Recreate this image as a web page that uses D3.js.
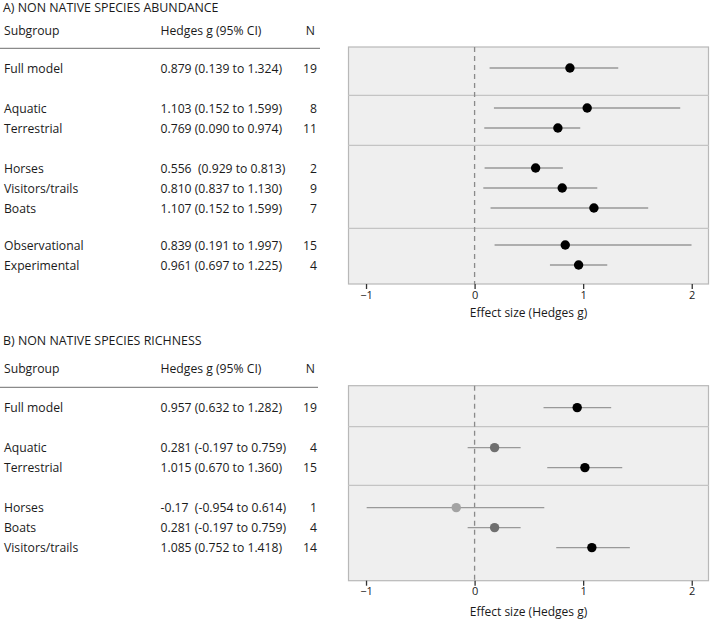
<!DOCTYPE html>
<html><head><meta charset="utf-8">
<script src="https://cdn.jsdelivr.net/npm/d3@7"></script>
<style>
body{margin:0;background:#fff}
text{font-family:"Open Sans",sans-serif;fill:#1a1a1a;white-space:pre}
</style>
</head><body><svg id="c" width="711" height="620"></svg>
<script>
// ---------- data ----------
const headers = ["Subgroup", "Hedges g (95% CI)", "N"];
const xTicks = [-1, 0, 1, 2];
const xTitle = "Effect size (Hedges g)";

const aTitle = "A) NON NATIVE SPECIES ABUNDANCE";
const aSubgroups = ["Full model", "Aquatic", "Terrestrial", "Horses", "Visitors/trails", "Boats", "Observational", "Experimental"];
const aHedgesText = ["0.879 (0.139 to 1.324)", "1.103 (0.152 to 1.599)", "0.769 (0.090 to 0.974)", "0.556  (0.929 to 0.813)", "0.810 (0.837 to 1.130)", "1.107 (0.152 to 1.599)", "0.839 (0.191 to 1.997)", "0.961 (0.697 to 1.225)"];
const aN = [19, 8, 11, 2, 9, 7, 15, 4];
const aGroupSizes = [1, 2, 3, 2];
const aEst = [0.878, 1.037, 0.767, 0.562, 0.807, 1.099, 0.835, 0.958];
const aLo  = [0.138, 0.178, 0.089, 0.092, 0.080, 0.147, 0.184, 0.694];
const aHi  = [1.323, 1.894, 0.973, 0.813, 1.130, 1.599, 1.998, 1.222];

const bTitle = "B) NON NATIVE SPECIES RICHNESS";
const bSubgroups = ["Full model", "Aquatic", "Terrestrial", "Horses", "Boats", "Visitors/trails"];
const bHedgesText = ["0.957 (0.632 to 1.282)", "0.281 (-0.197 to 0.759)", "1.015 (0.670 to 1.360)", "-0.17  (-0.954 to 0.614)", "0.281 (-0.197 to 0.759)", "1.085 (0.752 to 1.418)"];
const bN = [19, 4, 15, 1, 4, 14];
const bGroupSizes = [1, 2, 3];
const bEst = [0.945, 0.184, 1.016, -0.169, 0.184, 1.080];
const bLo  = [0.635, -0.064, 0.669, -0.994, -0.064, 0.752];
const bHi  = [1.258, 0.424, 1.360, 0.642, 0.424, 1.430];

// ---------- drawing ----------
const svg = d3.select("#c");
svg.append("rect").attr("width", 711).attr("height", 620).attr("fill", "#fff");
const FS = 12.2;

function panel(cfg) {
  const g = svg.append("g");
  const n = cfg.labels.length;
  // slot positions from group sizes and gaps
  const slots = [];
  let s = 0;
  cfg.groups.forEach((size, gi) => {
    if (gi > 0) s += cfg.gaps[gi - 1];
    for (let k = 0; k < size; k++) { slots.push(s); s += 1; }
  });
  const y = d3.scaleLinear().domain([0, 1]).range([cfg.rowY0, cfg.rowY0 + cfg.step]);
  const x = d3.scaleLinear().domain([-1.166, 2.159]).range([348, 709]);

  // title
  g.append("text").attr("x", 3).attr("y", cfg.titleY).attr("dominant-baseline", "central")
    .attr("font-size", 12.4).text(cfg.title);
  // headers
  g.append("text").attr("x", 4).attr("y", cfg.headerY).attr("dominant-baseline", "central").attr("font-size", FS).text(headers[0]);
  g.append("text").attr("x", 160.5).attr("y", cfg.headerY).attr("dominant-baseline", "central").attr("font-size", FS).text(headers[1]);
  g.append("text").attr("x", 315).attr("y", cfg.headerY).attr("text-anchor", "end").attr("dominant-baseline", "central").attr("font-size", FS).text(headers[2]);
  g.append("line").attr("x1", 0).attr("x2", cfg.lineX2).attr("y1", cfg.lineY).attr("y2", cfg.lineY)
    .attr("stroke", "#8a8a8a").attr("stroke-width", 1.2);

  // rows text
  const rows = d3.range(n);
  g.selectAll(".lab").data(rows).join("text").attr("x", 4).attr("y", i => y(slots[i]))
    .attr("dominant-baseline", "central").attr("font-size", FS).text(i => cfg.labels[i]);
  g.selectAll(".hg").data(rows).join("text").attr("x", 160.5).attr("y", i => y(slots[i]))
    .attr("dominant-baseline", "central").attr("font-size", FS).text(i => cfg.hedges[i]);
  g.selectAll(".nn").data(rows).join("text").attr("x", 317).attr("y", i => y(slots[i]))
    .attr("text-anchor", "end").attr("dominant-baseline", "central").attr("font-size", FS).text(i => cfg.N[i]);

  // plot area
  g.append("rect").attr("x", x.range()[0] + 0.5).attr("y", cfg.top).attr("width", x.range()[1] - x.range()[0] - 1)
    .attr("height", cfg.bottom - cfg.top).attr("fill", "#efefef").attr("stroke", "#b8b8b8").attr("stroke-width", 1.2);
  cfg.seps.forEach(sp => {
    g.append("line").attr("x1", x.range()[0]).attr("x2", x.range()[1]).attr("y1", y(sp)).attr("y2", y(sp))
      .attr("stroke", "#c4c4c4").attr("stroke-width", 1.2);
  });
  g.append("line").attr("x1", x(0)).attr("x2", x(0)).attr("y1", cfg.top).attr("y2", cfg.bottom)
    .attr("stroke", "#8a8a8a").attr("stroke-width", 1.3).attr("stroke-dasharray", "5,4");

  // CI lines and points
  g.selectAll(".ci").data(rows).join("line")
    .attr("x1", i => x(cfg.lo[i])).attr("x2", i => x(cfg.hi[i]))
    .attr("y1", i => y(slots[i])).attr("y2", i => y(slots[i]))
    .attr("stroke", "#999").attr("stroke-width", 1.3);
  g.selectAll(".pt").data(rows).join("circle")
    .attr("cx", i => x(cfg.est[i])).attr("cy", i => y(slots[i])).attr("r", 4.7)
    .attr("fill", i => cfg.lo[i] < 0 ? (cfg.N[i] < 2 ? "#a3a3a3" : "#6f6f6f") : "#000");

  // axis ticks
  const ax = g.append("g").attr("transform", `translate(0,${cfg.bottom})`)
    .call(d3.axisBottom(x).tickValues(xTicks).tickSize(5).tickPadding(2).tickFormat(d3.format("")));
  ax.select(".domain").remove();
  ax.selectAll("line").attr("stroke", "#333").attr("stroke-width", 1.3);
  ax.selectAll("text").attr("font-size", 11).attr("fill", "#222").style("font-family", "'Open Sans',sans-serif");
  g.append("text").attr("x", (x.range()[0] + x.range()[1]) / 2).attr("y", cfg.axisTitleY)
    .attr("text-anchor", "middle").attr("dominant-baseline", "central").attr("font-size", 12).text(xTitle);
}

panel({
  title: aTitle, labels: aSubgroups, hedges: aHedgesText, N: aN, est: aEst, lo: aLo, hi: aHi,
  groups: aGroupSizes, gaps: [1, 1, 0.85], seps: [1.365, 3.865, 8.015],
  titleY: 7.5, headerY: 30, lineY: 48.3, lineX2: 320, rowY0: 68, step: 20,
  top: 47, bottom: 284, axisTitleY: 312
});
panel({
  title: bTitle, labels: bSubgroups, hedges: bHedgesText, N: bN, est: bEst, lo: bLo, hi: bHi,
  groups: bGroupSizes, gaps: [1, 1], seps: [0.955, 3.885],
  titleY: 340.7, headerY: 368.3, lineY: 387.3, lineX2: 318, rowY0: 407.6, step: 20,
  top: 385.7, bottom: 580.7, axisTitleY: 611.7
});
</script>
</body></html>
